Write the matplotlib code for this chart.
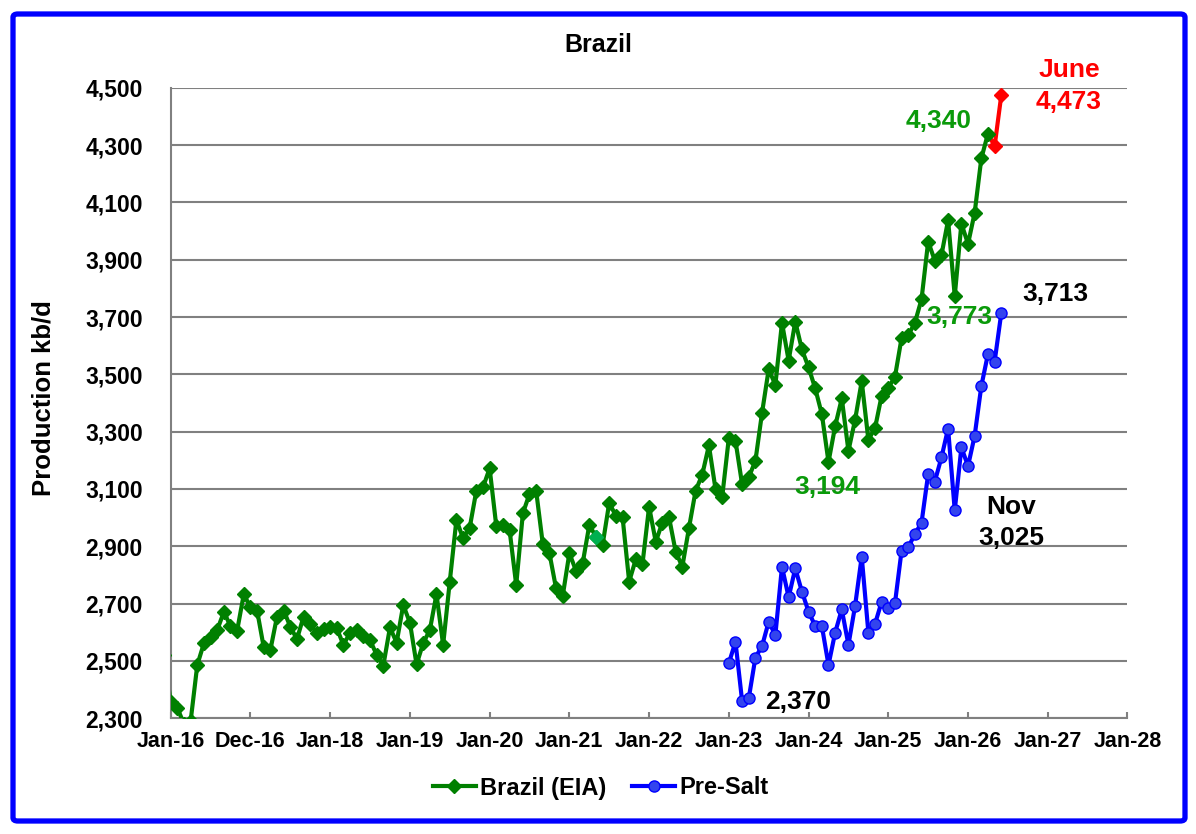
import numpy as np
import matplotlib
matplotlib.use('Agg')
import matplotlib.pyplot as plt
from matplotlib.patches import FancyBboxPatch

plt.rcParams['font.family'] = ['Liberation Sans', 'DejaVu Sans']
plt.rcParams['font.weight'] = 'bold'

# months counted from Jan-16 (0); Brazil series starts Dec-15 (-1)
brazil_start = -1
brazil = [2520, 2356, 2336, 2280, 2290, 2486, 2562, 2583, 2608, 2671,
          2622, 2606, 2733, 2687, 2676, 2548, 2538, 2655, 2676, 2620,
          2576, 2655, 2629, 2597, 2610, 2620, 2614, 2556, 2599, 2608,
          2587, 2573, 2521, 2484, 2617, 2564, 2695, 2634, 2488, 2562,
          2608, 2733, 2556, 2777, 2992, 2928, 2965, 3094, 3106, 3172,
          2971, 2974, 2957, 2765, 3015, 3083, 3094, 2908, 2876, 2753,
          2727, 2876, 2815, 2841, 2974, 2934, 2905, 3052, 3006, 3003,
          2777, 2855, 2838, 3038, 2916, 2983, 3001, 2881, 2829, 2964,
          3094, 3150, 3252, 3099, 3072, 3278, 3268, 3116, 3141, 3198,
          3366, 3518, 3463, 3680, 3548, 3684, 3587, 3524, 3451, 3361,
          3194, 3319, 3416, 3233, 3341, 3476, 3272, 3312, 3426, 3453,
          3491, 3627, 3636, 3680, 3762, 3963, 3897, 3916, 4038, 3773,
          4026, 3955, 4064, 4253, 4340]

presalt_start = 84  # Jan-23
presalt = [2492, 2567, 2360, 2370, 2512, 2552, 2637, 2590, 2829, 2722,
           2823, 2742, 2672, 2622, 2622, 2486, 2599, 2680, 2556, 2692,
           2864, 2599, 2629, 2707, 2684, 2701, 2885, 2896, 2943, 2982,
           3152, 3126, 3210, 3311, 3025, 3245, 3180, 3286, 3459, 3571,
           3544, 3713]

latest_start = 123  # Apr-26 .. Jun-26
latest = [4340, 4296, 4473]

tick_labels = ['Jan-16', 'Dec-16', 'Jan-18', 'Jan-19', 'Jan-20', 'Jan-21',
               'Jan-22', 'Jan-23', 'Jan-24', 'Jan-25', 'Jan-26', 'Jan-27',
               'Jan-28']
y_ticks = np.arange(2300, 4501, 200)

x_b = np.arange(brazil_start, brazil_start + len(brazil))
x_p = np.arange(presalt_start, presalt_start + len(presalt))
x_l = np.arange(latest_start, latest_start + len(latest))

W, H = 1196, 834
fig = plt.figure(figsize=(W / 100, H / 100), dpi=100)
ax = fig.add_axes([170.7 / W, 1 - 718.3 / H, (1127.5 - 170.7) / W, (718.3 - 87.7) / H])

green = '#008000'
ax.plot(x_l, latest, color='red', lw=3, marker='D', ms=7.5, markevery=[1, 2], zorder=3)
ax.plot(x_b, brazil, color=green, lw=3, marker='D', ms=7.5, label='Brazil (EIA)', zorder=4)
# one odd coloured marker in the original
ax.plot(x_b[65], brazil[65], color='#00B050', marker='D', ms=7.5, lw=0, zorder=5)
ax.plot(x_p, presalt, color='blue', lw=3, marker='o', ms=8, mfc='#3344EE',
        mec='blue', label='Pre-Salt', zorder=4)

ax.set_xlim(0, 144)
ax.set_ylim(2300, 4500)
ax.set_xticks(np.arange(0, 145, 12))
ax.set_xticklabels(tick_labels)
ax.set_yticks(y_ticks)
ax.set_yticklabels([f'{v:,}' for v in y_ticks])
ax.grid(axis='y', color='#808080', lw=1.5)
ax.set_axisbelow(True)
for s in ['top', 'right']:
    ax.spines[s].set_visible(False)
for s in ['left', 'bottom']:
    ax.spines[s].set_color('#808080')
    ax.spines[s].set_linewidth(1.5)
ax.tick_params(axis='x', direction='in', length=4.5, width=1.5, color='#808080',
               labelsize=15.5, pad=9)
ax.tick_params(axis='y', length=0, labelsize=16.5, pad=20)

ax.set_ylabel('Production kb/d', fontsize=18.5, fontweight='bold')
ax.yaxis.set_label_coords(-0.12, 0.508)

fig.text(0.5, 1 - 45 / H, 'Brazil', ha='center', va='center', fontsize=18, fontweight='bold')

tg = '#0A9A0A'
ax.text(115.5, 4384, '4,340', color=tg, fontsize=19, ha='center', va='center')
ax.text(135.2, 4562, 'June', color='red', fontsize=19, ha='center', va='center')
ax.text(135.2, 4450, '4,473', color='red', fontsize=19, ha='center', va='center')
ax.text(133.1, 3781, '3,713', color='black', fontsize=19, ha='center', va='center')
ax.text(118.7, 3700, '3,773', color=tg, fontsize=19, ha='center', va='center')
ax.text(126.5, 3037, 'Nov', color='black', fontsize=19, ha='center', va='center')
ax.text(126.5, 2929, '3,025', color='black', fontsize=19, ha='center', va='center')
ax.text(98.9, 3107, '3,194', color=tg, fontsize=19, ha='center', va='center')
ax.text(94.5, 2357, '2,370', color='black', fontsize=19, ha='center', va='center')

fig.legend(loc='center', bbox_to_anchor=(601 / W, 1 - 788 / H), ncol=2, frameon=False,
           fontsize=17, handlelength=1.8, handletextpad=0.2, columnspacing=1.1)

border = FancyBboxPatch((13 / W, 13 / H), (1185 - 13) / W, (820 - 13) / H,
                        boxstyle='round,pad=0,rounding_size=0.004', transform=fig.transFigure,
                        fill=False, edgecolor='blue', lw=3.8)
fig.patches.append(border)

fig.savefig('out.png', dpi=100)
